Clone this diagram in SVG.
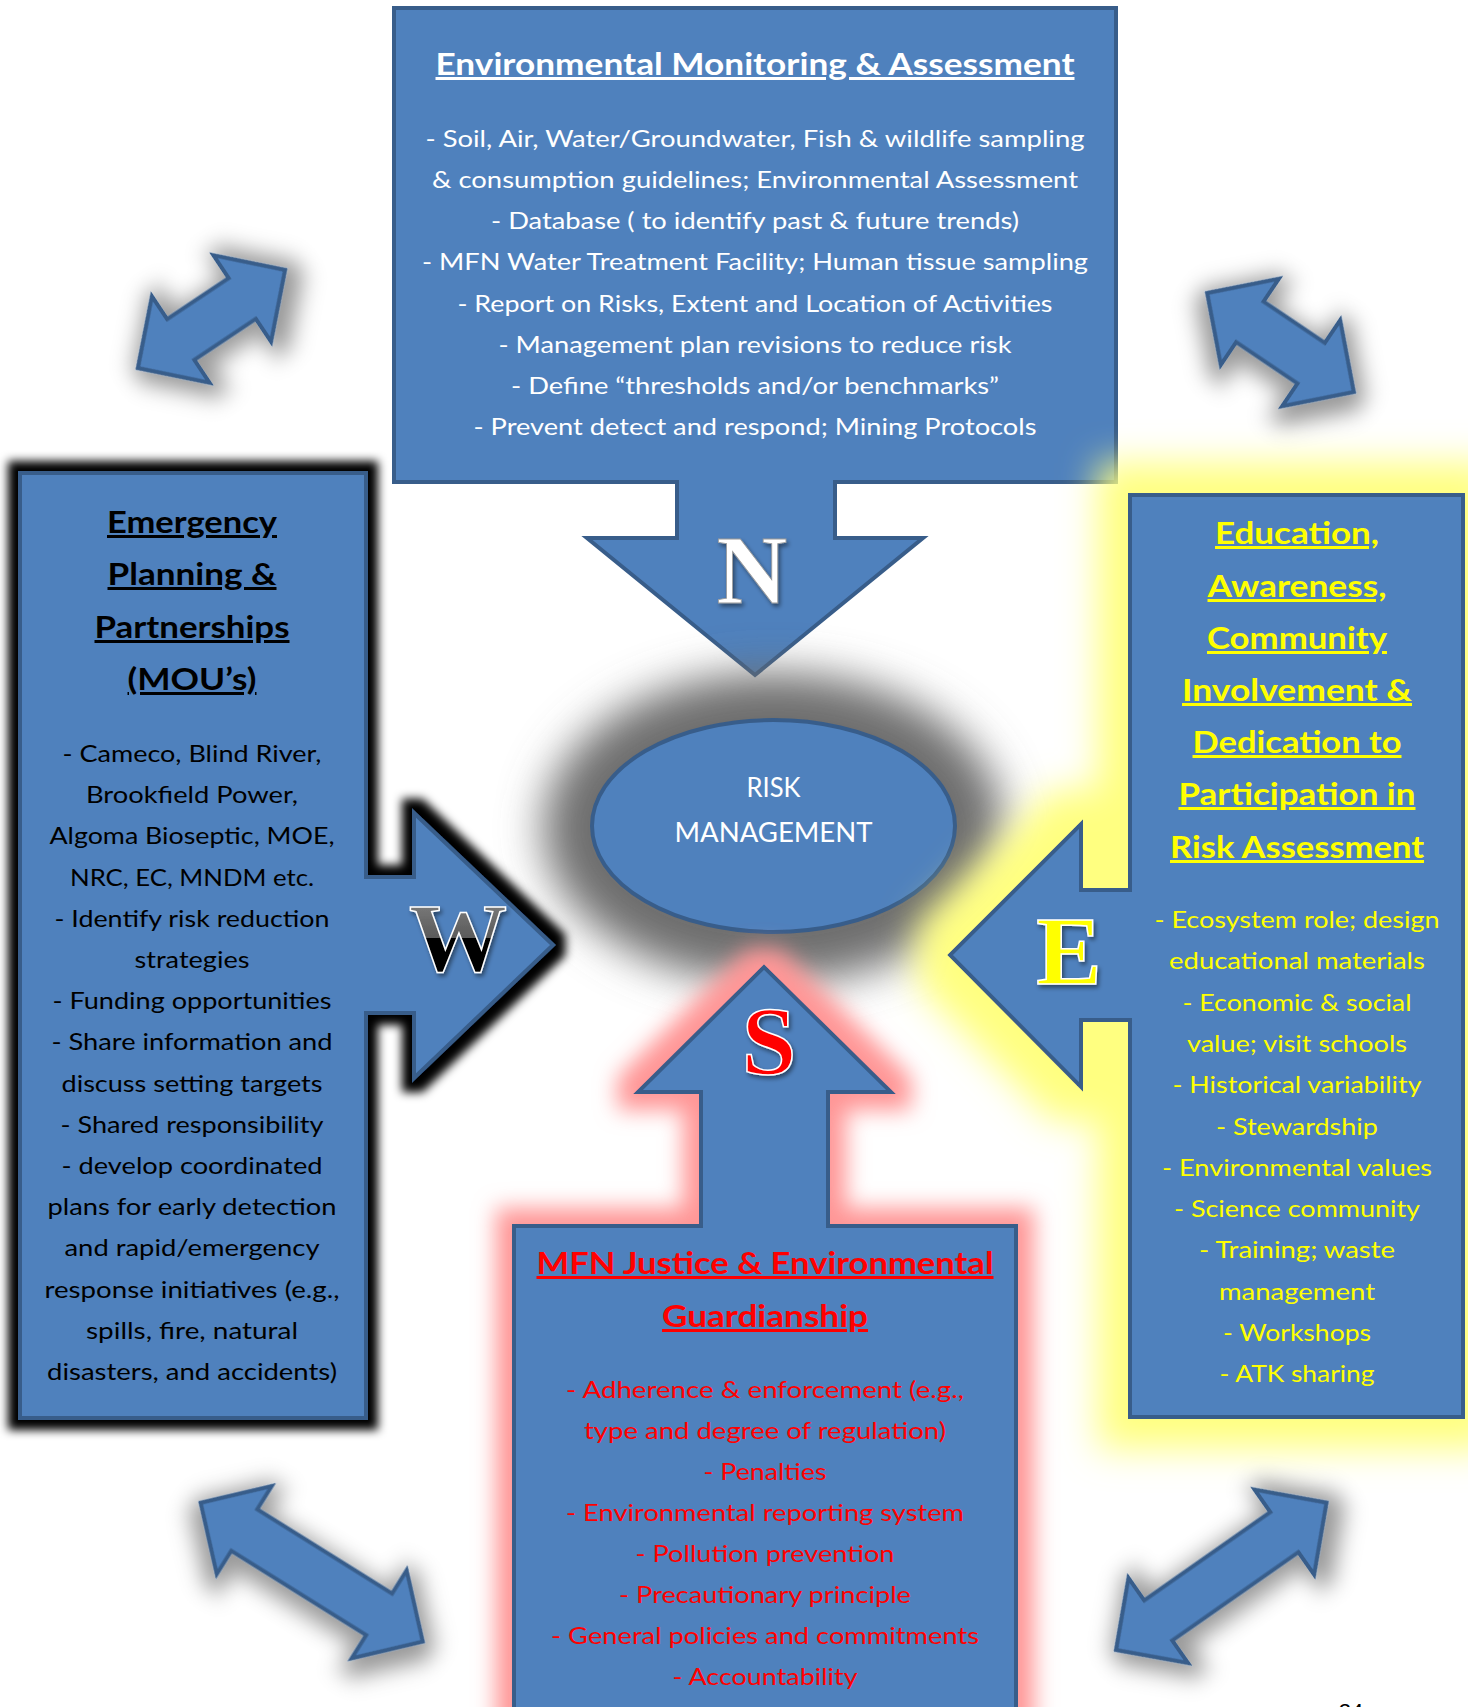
<svg xmlns="http://www.w3.org/2000/svg" width="1468" height="1707" viewBox="0 0 1468 1707">
<style>
.shape{fill:#4f81bd;stroke:#385d8a;stroke-width:4;stroke-linejoin:miter}
.bd{font-family:Lato,"Open Sans","Liberation Sans",sans-serif;font-size:23.5px;text-anchor:middle}
.ti{font-family:Lato,"Open Sans","Liberation Sans",sans-serif;font-size:30px;font-weight:bold;text-anchor:middle;text-decoration:underline}
.w{fill:#ffffff}.k{fill:#000000}.y{fill:#ffff00}.r{fill:#ff0000}
.big{font-family:"Liberation Serif","Times New Roman",serif;font-weight:bold;font-size:98px;text-anchor:middle}
.rm{font-family:Lato,"Open Sans",sans-serif;font-size:27px;fill:#fff;text-anchor:middle}
</style>
<defs>
<filter id="glowK" x="-20%" y="-20%" width="140%" height="140%">
<feMorphology in="SourceAlpha" operator="dilate" radius="10" result="d"/>
<feGaussianBlur in="d" stdDeviation="5" result="b"/>
<feFlood flood-color="#000"/>
<feComposite in2="b" operator="in" result="g"/>
<feMerge><feMergeNode in="g"/><feMergeNode in="SourceGraphic"/></feMerge>
</filter>
<filter id="glowY" x="-40%" y="-30%" width="180%" height="160%">
<feMorphology in="SourceAlpha" operator="dilate" radius="30" result="d"/>
<feGaussianBlur in="d" stdDeviation="18" result="b"/>
<feFlood flood-color="#ffff80"/>
<feComposite in2="b" operator="in" result="g"/>
<feMerge><feMergeNode in="g"/><feMergeNode in="SourceGraphic"/></feMerge>
</filter>
<filter id="glowR" x="-30%" y="-30%" width="160%" height="160%">
<feMorphology in="SourceAlpha" operator="dilate" radius="16" result="d"/>
<feGaussianBlur in="d" stdDeviation="11" result="b"/>
<feFlood flood-color="#ff9696"/>
<feComposite in2="b" operator="in" result="g"/>
<feMerge><feMergeNode in="g"/><feMergeNode in="SourceGraphic"/></feMerge>
</filter>
<filter id="blurG" x="-50%" y="-50%" width="200%" height="200%">
<feGaussianBlur stdDeviation="22"/>
</filter>
<filter id="shA" x="-50%" y="-50%" width="200%" height="200%">
<feMorphology in="SourceAlpha" operator="dilate" radius="7" result="d"/>
<feGaussianBlur in="d" stdDeviation="11" result="b"/>
<feOffset in="b" dx="4" dy="6" result="o"/>
<feFlood flood-color="#000" flood-opacity="0.4"/>
<feComposite in2="o" operator="in" result="g"/>
<feMerge><feMergeNode in="g"/><feMergeNode in="SourceGraphic"/></feMerge>
</filter>
<filter id="shL" x="-20%" y="-20%" width="140%" height="140%">
<feGaussianBlur in="SourceAlpha" stdDeviation="2" result="b"/>
<feOffset in="b" dx="2" dy="3" result="o"/>
<feFlood flood-color="#000" flood-opacity="0.45"/>
<feComposite in2="o" operator="in" result="g"/>
<feMerge><feMergeNode in="g"/><feMergeNode in="SourceGraphic"/></feMerge>
</filter>
<linearGradient id="wgrad" x1="0" y1="0" x2="0" y2="1">
<stop offset="0" stop-color="#8c8c8c"/>
<stop offset="0.5" stop-color="#5a5a5a"/>
<stop offset="0.5" stop-color="#000"/>
<stop offset="1" stop-color="#000"/>
</linearGradient>
</defs>
<rect width="1468" height="1707" fill="#ffffff"/>

<g id="connectors">
<path class="shape" filter="url(#shA)" transform="translate(211.5,319) rotate(-33.7)" d="M-88.5,0 L-37,-52 L-37,-24.5 L37,-24.5 L37,-52 L88.5,0 L37,52 L37,24.5 L-37,24.5 L-37,52 Z"/>
<path class="shape" filter="url(#shA)" transform="translate(1280.5,342.5) rotate(34)" d="M-88.5,0 L-37,-52 L-37,-24.5 L37,-24.5 L37,-52 L88.5,0 L37,52 L37,24.5 L-37,24.5 L-37,52 Z"/>
<path class="shape" filter="url(#shA)" transform="translate(311.7,1572.2) rotate(32)" d="M-131,0 L-79.5,-52 L-79.5,-24.5 L79.5,-24.5 L79.5,-52 L131,0 L79.5,52 L79.5,24.5 L-79.5,24.5 L-79.5,52 Z"/>
<path class="shape" filter="url(#shA)" transform="translate(1221.3,1576.3) rotate(-35)" d="M-128.5,0 L-77,-52 L-77,-24.5 L77,-24.5 L77,-52 L128.5,0 L77,52 L77,24.5 L-77,24.5 L-77,52 Z"/>
</g>

<g id="north">
<path class="shape" d="M394,8 H1116 V482 H835 V538 H923 L755,675 L587,538 H677 V482 H394 Z"/>
<text class="ti w" x="755" y="75" textLength="639" lengthAdjust="spacingAndGlyphs">Environmental Monitoring &amp; Assessment</text>
<text class="bd w" x="755" y="147" textLength="659" lengthAdjust="spacingAndGlyphs">- Soil, Air, Water/Groundwater, Fish &amp; wildlife sampling</text>
<text class="bd w" x="755" y="188" textLength="646" lengthAdjust="spacingAndGlyphs">&amp; consumption guidelines; Environmental Assessment</text>
<text class="bd w" x="755" y="229" textLength="528" lengthAdjust="spacingAndGlyphs">- Database ( to identify past &amp; future trends)</text>
<text class="bd w" x="755" y="270" textLength="666" lengthAdjust="spacingAndGlyphs">- MFN Water Treatment Facility; Human tissue sampling</text>
<text class="bd w" x="755" y="312" textLength="595" lengthAdjust="spacingAndGlyphs">- Report on Risks, Extent and Location of Activities</text>
<text class="bd w" x="755" y="353" textLength="513" lengthAdjust="spacingAndGlyphs">- Management plan revisions to reduce risk</text>
<text class="bd w" x="755" y="394" textLength="488" lengthAdjust="spacingAndGlyphs">- Define “thresholds and/or benchmarks”</text>
<text class="bd w" x="755" y="435" textLength="563" lengthAdjust="spacingAndGlyphs">- Prevent detect and respond; Mining Protocols</text>
<text class="big w" x="752" y="603" filter="url(#shL)" stroke="#9a9a9a" stroke-width="0.8">N</text>
</g>

<g id="risk-management">
<ellipse cx="773.5" cy="828" rx="230" ry="155" fill="#6e6e6e" filter="url(#blurG)"/>
<ellipse class="shape" cx="773.5" cy="826" rx="181.5" ry="106"/>
<text class="rm" x="773.5" y="797" textLength="54" lengthAdjust="spacingAndGlyphs">RISK</text>
<text class="rm" x="773.5" y="842" textLength="198" lengthAdjust="spacingAndGlyphs">MANAGEMENT</text>
</g>

<g id="west">
<path class="shape" filter="url(#glowK)" d="M20,473 H366 V877 H414 V813 L553,945 L414,1078 V1013 H366 V1418 H20 Z"/>
<text class="ti k" x="192" y="533" textLength="170" lengthAdjust="spacingAndGlyphs">Emergency</text>
<text class="ti k" x="192" y="585" textLength="169" lengthAdjust="spacingAndGlyphs">Planning &amp;</text>
<text class="ti k" x="192" y="638" textLength="195" lengthAdjust="spacingAndGlyphs">Partnerships</text>
<text class="ti k" x="192" y="690" textLength="129" lengthAdjust="spacingAndGlyphs">(MOU’s)</text>
<text class="bd k" x="192" y="762" textLength="259" lengthAdjust="spacingAndGlyphs">- Cameco, Blind River,</text>
<text class="bd k" x="192" y="803" textLength="212" lengthAdjust="spacingAndGlyphs">Brookfield Power,</text>
<text class="bd k" x="192" y="844" textLength="285" lengthAdjust="spacingAndGlyphs">Algoma Bioseptic, MOE,</text>
<text class="bd k" x="192" y="886" textLength="244" lengthAdjust="spacingAndGlyphs">NRC, EC, MNDM etc.</text>
<text class="bd k" x="192" y="927" textLength="275" lengthAdjust="spacingAndGlyphs">- Identify risk reduction</text>
<text class="bd k" x="192" y="968" textLength="115" lengthAdjust="spacingAndGlyphs">strategies</text>
<text class="bd k" x="192" y="1009" textLength="279" lengthAdjust="spacingAndGlyphs">- Funding opportunities</text>
<text class="bd k" x="192" y="1050" textLength="281" lengthAdjust="spacingAndGlyphs">- Share information and</text>
<text class="bd k" x="192" y="1092" textLength="261" lengthAdjust="spacingAndGlyphs">discuss setting targets</text>
<text class="bd k" x="192" y="1133" textLength="263" lengthAdjust="spacingAndGlyphs">- Shared responsibility</text>
<text class="bd k" x="192" y="1174" textLength="261" lengthAdjust="spacingAndGlyphs">- develop coordinated</text>
<text class="bd k" x="192" y="1215" textLength="289" lengthAdjust="spacingAndGlyphs">plans for early detection</text>
<text class="bd k" x="192" y="1256" textLength="255" lengthAdjust="spacingAndGlyphs">and rapid/emergency</text>
<text class="bd k" x="192" y="1298" textLength="295" lengthAdjust="spacingAndGlyphs">response initiatives (e.g.,</text>
<text class="bd k" x="192" y="1339" textLength="212" lengthAdjust="spacingAndGlyphs">spills, fire, natural</text>
<text class="bd k" x="192" y="1380" textLength="290" lengthAdjust="spacingAndGlyphs">disasters, and accidents)</text>
<text class="big" x="458" y="971" fill="url(#wgrad)" stroke="#ffffff" stroke-width="1.5" filter="url(#shL)">W</text>
</g>

<g id="east">
<path class="shape" filter="url(#glowY)" d="M1130,495 H1463 V1417 H1130 V1020 H1081 V1087 L950,955 L1081,824 V890 H1130 Z"/>
<text class="ti y" x="1297" y="544" textLength="164" lengthAdjust="spacingAndGlyphs">Education,</text>
<text class="ti y" x="1297" y="597" textLength="179" lengthAdjust="spacingAndGlyphs">Awareness,</text>
<text class="ti y" x="1297" y="649" textLength="180" lengthAdjust="spacingAndGlyphs">Community</text>
<text class="ti y" x="1297" y="701" textLength="230" lengthAdjust="spacingAndGlyphs">Involvement &amp;</text>
<text class="ti y" x="1297" y="753" textLength="209" lengthAdjust="spacingAndGlyphs">Dedication to</text>
<text class="ti y" x="1297" y="805" textLength="237" lengthAdjust="spacingAndGlyphs">Participation in</text>
<text class="ti y" x="1297" y="858" textLength="254" lengthAdjust="spacingAndGlyphs">Risk Assessment</text>
<text class="bd y" x="1297" y="928" textLength="285" lengthAdjust="spacingAndGlyphs">- Ecosystem role; design</text>
<text class="bd y" x="1297" y="969" textLength="256" lengthAdjust="spacingAndGlyphs">educational materials</text>
<text class="bd y" x="1297" y="1011" textLength="229" lengthAdjust="spacingAndGlyphs">- Economic &amp; social</text>
<text class="bd y" x="1297" y="1052" textLength="220" lengthAdjust="spacingAndGlyphs">value; visit schools</text>
<text class="bd y" x="1297" y="1093" textLength="249" lengthAdjust="spacingAndGlyphs">- Historical variability</text>
<text class="bd y" x="1297" y="1135" textLength="162" lengthAdjust="spacingAndGlyphs">- Stewardship</text>
<text class="bd y" x="1297" y="1176" textLength="270" lengthAdjust="spacingAndGlyphs">- Environmental values</text>
<text class="bd y" x="1297" y="1217" textLength="246" lengthAdjust="spacingAndGlyphs">- Science community</text>
<text class="bd y" x="1297" y="1258" textLength="196" lengthAdjust="spacingAndGlyphs">- Training; waste</text>
<text class="bd y" x="1297" y="1300" textLength="156" lengthAdjust="spacingAndGlyphs">management</text>
<text class="bd y" x="1297" y="1341" textLength="148" lengthAdjust="spacingAndGlyphs">- Workshops</text>
<text class="bd y" x="1297" y="1382" textLength="155" lengthAdjust="spacingAndGlyphs">- ATK sharing</text>
<text class="big y" x="1069" y="984" stroke="#ffffff" stroke-width="1.5" filter="url(#shL)">E</text>
</g>

<g id="south">
<path class="shape" filter="url(#glowR)" d="M514,1226 H701 V1092 H638 L764,967 L891,1092 H828 V1226 H1016 V1730 H514 Z"/>
<text class="ti r" x="765" y="1274" textLength="457" lengthAdjust="spacingAndGlyphs">MFN Justice &amp; Environmental</text>
<text class="ti r" x="765" y="1327" textLength="206" lengthAdjust="spacingAndGlyphs">Guardianship</text>
<text class="bd r" x="765" y="1398" textLength="398" lengthAdjust="spacingAndGlyphs">- Adherence &amp; enforcement (e.g.,</text>
<text class="bd r" x="765" y="1439" textLength="362" lengthAdjust="spacingAndGlyphs">type and degree of regulation)</text>
<text class="bd r" x="765" y="1480" textLength="123" lengthAdjust="spacingAndGlyphs">- Penalties</text>
<text class="bd r" x="765" y="1521" textLength="398" lengthAdjust="spacingAndGlyphs">- Environmental reporting system</text>
<text class="bd r" x="765" y="1562" textLength="259" lengthAdjust="spacingAndGlyphs">- Pollution prevention</text>
<text class="bd r" x="765" y="1603" textLength="292" lengthAdjust="spacingAndGlyphs">- Precautionary principle</text>
<text class="bd r" x="765" y="1644" textLength="428" lengthAdjust="spacingAndGlyphs">- General policies and commitments</text>
<text class="bd r" x="765" y="1685" textLength="185" lengthAdjust="spacingAndGlyphs">- Accountability</text>
<text class="big r" x="769" y="1074" stroke="#ffffff" stroke-width="1.5" filter="url(#shL)">S</text>
</g>

<text x="1351" y="1719" font-family="Liberation Sans, Arial, sans-serif" font-size="22" text-anchor="middle" fill="#000">24</text>
</svg>
